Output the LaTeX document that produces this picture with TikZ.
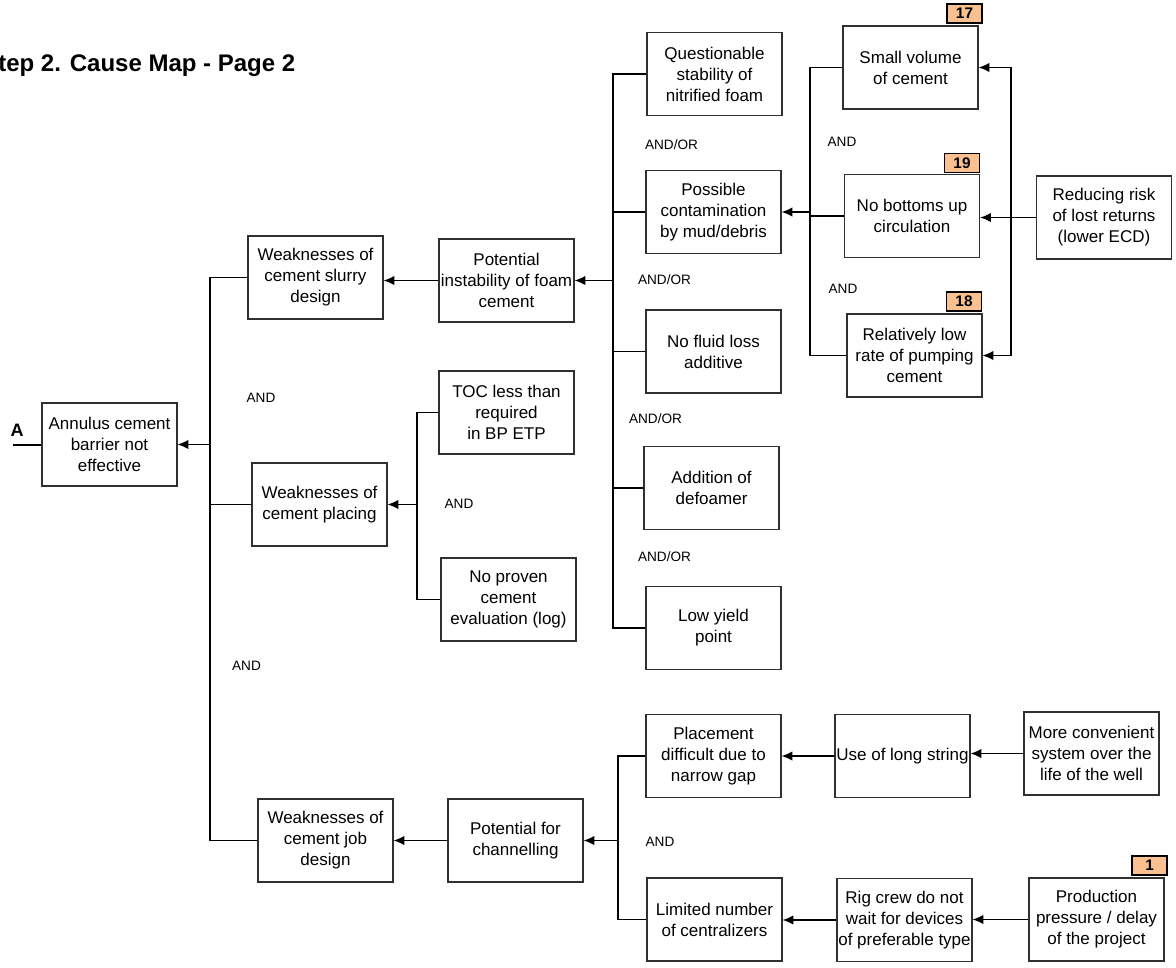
\documentclass[tikz,border=0pt]{standalone}
\usepackage{fontspec}
\setmainfont{Liberation Sans}
\usetikzlibrary{arrows.meta,calc}
\definecolor{badgefill}{HTML}{FAC090}
\definecolor{boxline}{HTML}{303030}

\begin{document}
\begin{tikzpicture}[x=0.75pt,y=-0.75pt,
  cause/.style={draw=boxline,line width=1pt,minimum width=101.25pt,minimum height=62.25pt,
    inner sep=1pt,align=center,font=\fontsize{12.75}{15.75}\selectfont},
  link/.style={line width=0.8pt},
  arr/.style={link,-{Latex[length=8pt,width=7pt]}},
  gate/.style={inner sep=0pt,font=\fontsize{10.2}{12}\selectfont},
  badge/.style={draw=black,line width=0.8pt,fill=badgefill,minimum width=26.25pt,
    minimum height=14.25pt,inner sep=0pt,font=\bfseries\fontsize{11.5}{12}\selectfont}
]
\useasboundingbox (0,0) rectangle (1176,967);

% heading
\node[anchor=base west,inner sep=0pt,font=\bfseries\fontsize{18}{20}\selectfont] (title)
  at (-18,71.7) {Step 2. Cause Map - Page 2};

% effect and first-level causes
\node[cause] (ann)     at (109.5,444.5) {Annulus cement\\barrier not\\effective};
\node[cause] (slurry)  at (315.5,277.5) {Weaknesses of\\cement slurry\\design};
\node[cause] (placing) at (319.5,504.5) {Weaknesses of\\cement placing};
\node[cause] (job)     at (325.5,840.5) {Weaknesses of\\cement job\\design};

% slurry branch
\node[cause] (inst)    at (506.5,280.5) {Potential\\instability of foam\\cement};
\node[cause] (quest)   at (714.5,74)    {Questionable\\stability of\\nitrified foam};
\node[cause] (contam)  at (713.5,212)   {Possible\\contamination\\by mud/debris};
\node[cause] (fluid)   at (713.5,351.5) {No fluid loss\\additive};
\node[cause] (defoam)  at (711.5,488)   {Addition of\\defoamer};
\node[cause] (yield)   at (713.5,628)   {Low yield\\point};

\node[cause] (small)   at (910.5,67.5)  {Small volume\\of cement};
\node[cause] (bottoms) at (912,216)     {No bottoms up\\circulation};
\node[cause] (pumping) at (914.5,355.5) {Relatively low\\rate of pumping\\cement};
\node[cause] (reduce)  at (1104,217.5)  {Reducing risk\\of lost returns\\(lower ECD)};

\node[badge] (b17) at (964.5,13.5) {17};
\node[badge] (b19) at (962,163)    {19};
\node[badge] (b18) at (964,301.5)  {18};

% placing branch
\node[cause] (toc)     at (506.5,412.5) {TOC less than\\required\\in BP ETP};
\node[cause] (proven)  at (508.5,599.5) {No proven\\cement\\evaluation (log)};

% job design branch
\node[cause] (chan)    at (515.5,840.5) {Potential for\\channelling};
\node[cause] (place)   at (713.5,756)   {Placement\\difficult due to\\narrow gap};
\node[cause] (longstr) at (902.5,756)   {Use of long string};
\node[cause] (conv)    at (1091.5,753.5){More convenient\\system over the\\life of the well};
\node[cause] (limited) at (714.5,919.5) {Limited number\\of centralizers};
\node[cause] (rig)     at (904.5,920)   {Rig crew do not\\wait for devices\\of preferable type};
\node[cause] (prod)    at (1096.5,919.5){Production\\pressure / delay\\of the project};
\node[badge] (b1) at (1149.5,865.5) {1};

% gate labels
\node[gate] (g1) at (261,398)   {AND};
\node[gate] (g2) at (246.5,666) {AND};
\node[gate] (g3) at (459,504)   {AND};
\node[gate] (g4) at (671.5,145) {AND/OR};
\node[gate] (g5) at (664.5,280) {AND/OR};
\node[gate] (g6) at (655.5,419) {AND/OR};
\node[gate] (g7) at (664.5,557) {AND/OR};
\node[gate] (g8) at (842,142)   {AND};
\node[gate] (g9) at (843,289)   {AND};
\node[gate] (g10) at (660,842)  {AND};

% entry label A
\node[inner sep=0pt,anchor=base,font=\bfseries\fontsize{13.5}{14}\selectfont] (lblA) at (17,436) {A};
\coordinate (aend) at (13,445);
\draw[link] (aend) -- (ann.west |- aend);

% vertical buses
\coordinate (bus1) at (210,0);
\coordinate (bus2) at (613,0);
\coordinate (bus3) at (417,0);
\coordinate (bus4) at (810,0);
\coordinate (rbus) at (1011,0);
\coordinate (bus5) at (618,0);

% first level
\draw[link] (slurry.west) -| (job.west -| bus1) -- (job.west);
\draw[link] (placing.west) -- (placing.west -| bus1);
\draw[arr] (ann.east -| bus1) -- (ann.east);

% slurry branch
\draw[arr] (inst.west) -- (inst.west -| slurry.east);
\draw[link] (quest.west) -| (yield.west -| bus2) -- (yield.west);
\draw[link] (contam.west) -- (contam.west -| bus2);
\draw[link] (fluid.west) -- (fluid.west -| bus2);
\draw[link] (defoam.west) -- (defoam.west -| bus2);
\draw[arr] (inst.east -| bus2) -- (inst.east);

\draw[link] (small.west) -| (pumping.west -| bus4) -- (pumping.west);
\draw[link] (bottoms.west) -- (bottoms.west -| bus4);
\draw[arr] (contam.east -| bus4) -- (contam.east);

\draw[arr] (reduce.west) -- (reduce.west -| bottoms.east);
\draw[arr] (rbus |- reduce.west) |- (small.east);
\draw[arr] (rbus |- reduce.west) |- (pumping.east);

% placing branch
\draw[link] (toc.west) -| (proven.west -| bus3) -- (proven.west);
\draw[arr] (placing.east -| bus3) -- (placing.east);

% job design branch
\draw[arr] (chan.west) -- (chan.west -| job.east);
\draw[link] (place.west) -| (limited.west -| bus5) -- (limited.west);
\draw[arr] (chan.east -| bus5) -- (chan.east);
\draw[arr] (longstr.west) -- (longstr.west -| place.east);
\draw[arr] (conv.west) -- (conv.west -| longstr.east);
\draw[arr] (rig.west) -- (rig.west -| limited.east);
\draw[arr] (prod.west) -- (prod.west -| rig.east);

\end{tikzpicture}
\end{document}
